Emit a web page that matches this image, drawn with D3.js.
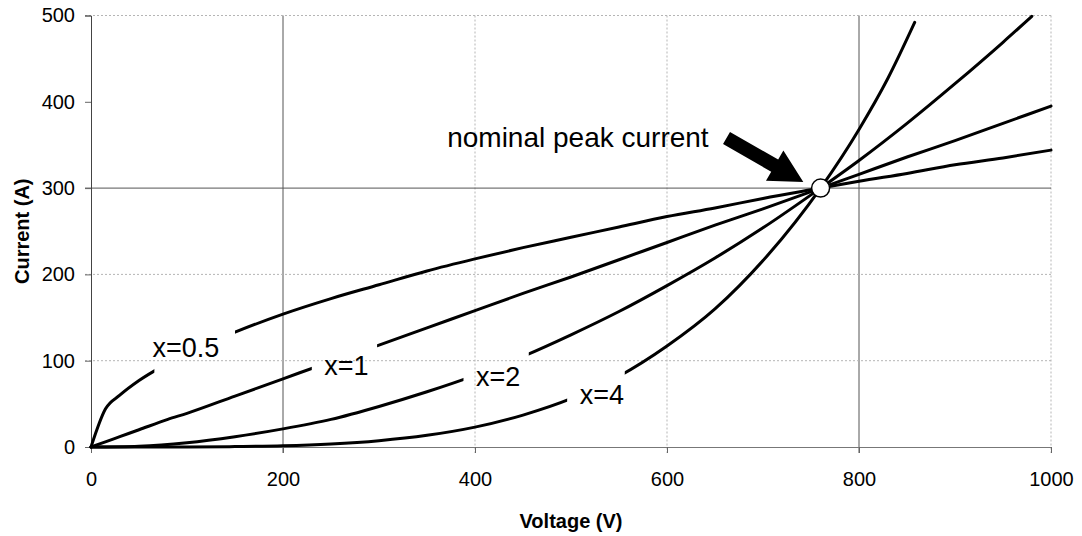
<!DOCTYPE html>
<meta charset="utf-8">
<style>
body { margin: 0; background: #fff; }
text { font-family: "Liberation Sans", Arial, sans-serif; fill: #000; }
.curve { fill: none; stroke: #000; stroke-width: 3; stroke-linejoin: round; stroke-linecap: round; }
</style>
<body>
<svg width="1082" height="536"></svg>

<script src="https://cdn.jsdelivr.net/npm/d3@7"></script>
<script>

// values
var voltageLow = [0, 15, 30, 50, 80, 100, 150, 200, 250, 300, 350, 400, 450, 500, 550, 600, 650, 700, 760, 800, 850, 900, 950, 1000];
var currentX05 = [0, 44, 60, 77, 97, 109, 133, 154, 172, 188, 204, 218, 231, 243, 255, 267, 277, 288, 300, 308, 317, 327, 335, 344];
var currentX1  = [0, 6, 12, 20, 32, 39, 59, 79, 99, 118, 138, 158, 178, 197, 217, 237, 257, 276, 300, 316, 336, 355, 375, 395];
var voltageX2  = [0, 50, 100, 150, 200, 250, 300, 350, 400, 450, 500, 550, 600, 650, 700, 760, 800, 850, 900, 950, 980];
var currentX2  = [0, 1, 5, 12, 21, 32, 47, 64, 83, 105, 130, 157, 187, 219, 254, 300, 332, 375, 421, 469, 499];
var voltageX4  = [0, 100, 150, 200, 250, 300, 350, 400, 450, 500, 550, 600, 650, 700, 760, 800, 830, 858];
var currentX4  = [0, 0, 0.5, 1.4, 3.5, 7.3, 13.5, 23, 37, 56, 82, 117, 160, 216, 300, 368, 427, 492];

var seriesNames = ["x=0.5", "x=1", "x=2", "x=4"];
var xTicks = [0, 200, 400, 600, 800, 1000];
var yTicks = [0, 100, 200, 300, 400, 500];
var peak = [760, 300];

var svg = d3.select("svg"),
    margin = {left: 91, right: 31, top: 15.5, bottom: 89},
    width = +svg.attr("width") - margin.left - margin.right,
    height = +svg.attr("height") - margin.top - margin.bottom;

var x = d3.scaleLinear().domain([0, 1000]).range([margin.left, margin.left + width]);
var y = d3.scaleLinear().domain([0, 500]).range([margin.top + height, margin.top]);

function zip(vs, is) { return vs.map(function(v, i) { return [v, is[i]]; }); }

var series = [
  {name: seriesNames[0], pts: zip(voltageLow, currentX05), gap: [66, 150],  label: [64, 104]},
  {name: seriesNames[1], pts: zip(voltageLow, currentX1),  gap: [230, 298], label: [243, 83]},
  {name: seriesNames[2], pts: zip(voltageX2, currentX2),   gap: [388, 456], label: [401, 71]},
  {name: seriesNames[3], pts: zip(voltageX4, currentX4),   gap: [496, 556], label: [509, 50]}
];

// grid: some lines printed dark, the rest faint dotted
var strongX = [200, 800], strongY = [300];
var grid = svg.append("g");
xTicks.slice(1).forEach(function(v) {
  var strong = strongX.indexOf(v) >= 0;
  grid.append("line")
      .attr("x1", x(v)).attr("x2", x(v))
      .attr("y1", y(500)).attr("y2", y(0) + 6)
      .attr("stroke", strong ? "#555" : "#b5b5b5")
      .attr("stroke-dasharray", strong ? null : "2,2");
});
yTicks.slice(1).forEach(function(v) {
  if (v === 400) return; // not visible in the print
  var strong = strongY.indexOf(v) >= 0;
  grid.append("line")
      .attr("x1", x(0) - 6).attr("x2", x(1000))
      .attr("y1", y(v)).attr("y2", y(v))
      .attr("stroke", strong ? "#555" : "#b5b5b5")
      .attr("stroke-dasharray", strong ? null : "2,2");
});

// axes
var xAxis = svg.append("g").attr("transform", "translate(0," + y(0) + ")")
    .call(d3.axisBottom(x).tickValues(xTicks).tickFormat(d3.format("d")).tickSize(6).tickPadding(19));
var yAxis = svg.append("g").attr("transform", "translate(" + x(0) + ",0)")
    .call(d3.axisLeft(y).tickValues(yTicks).tickSize(6).tickPadding(10));
[xAxis, yAxis].forEach(function(a) {
  a.select(".domain").attr("stroke", "#444");
  a.selectAll(".tick line").attr("stroke", "#666");
  a.selectAll("text").attr("font-size", 20).attr("font-family", "Liberation Sans, Arial, sans-serif").attr("fill", "#000");
});
xAxis.select(".domain").attr("stroke", "#777");

svg.append("text")
    .attr("x", x(500)).attr("y", 528)
    .attr("text-anchor", "middle")
    .attr("font-size", 20).attr("font-weight", "bold")
    .text("Voltage (V)");

svg.append("text")
    .attr("transform", "translate(29," + y(250) + ") rotate(-90)")
    .attr("text-anchor", "middle")
    .attr("font-size", 20).attr("font-weight", "bold")
    .text("Current (A)");

// curves, each with a break where its label sits
var line = d3.line()
    .x(function(d) { return x(d[0]); })
    .y(function(d) { return y(d[1]); })
    .curve(d3.curveMonotoneX);

var defs = svg.append("defs");
series.forEach(function(s, i) {
  var m = defs.append("mask").attr("id", "gap" + i).attr("maskUnits", "userSpaceOnUse")
      .attr("x", 0).attr("y", 0).attr("width", 1082).attr("height", 536);
  m.append("rect").attr("width", 1082).attr("height", 536).attr("fill", "#fff");
  m.append("rect")
      .attr("x", x(s.gap[0])).attr("width", x(s.gap[1]) - x(s.gap[0]))
      .attr("y", 0).attr("height", 536).attr("fill", "#000");

  svg.append("path")
      .datum(s.pts)
      .attr("class", "curve")
      .attr("mask", "url(#gap" + i + ")")
      .attr("d", line);

  svg.append("text")
      .attr("x", x(s.label[0])).attr("y", y(s.label[1]))
      .attr("font-size", 27)
      .text(s.name);
});

// nominal peak current annotation
var tail = [x(662), y(358)], tip = [x(742), y(307)];
function arrowPoints(a, b, shaft, headW, headL) {
  var dx = b[0] - a[0], dy = b[1] - a[1], len = Math.hypot(dx, dy),
      ux = dx / len, uy = dy / len, px = -uy, py = ux,
      bx = b[0] - ux * headL, by = b[1] - uy * headL;
  return [
    [a[0] + px * shaft / 2, a[1] + py * shaft / 2],
    [bx + px * shaft / 2, by + py * shaft / 2],
    [bx + px * headW / 2, by + py * headW / 2],
    b,
    [bx - px * headW / 2, by - py * headW / 2],
    [bx - px * shaft / 2, by - py * shaft / 2],
    [a[0] - px * shaft / 2, a[1] - py * shaft / 2]
  ];
}
svg.append("polygon")
    .attr("points", arrowPoints(tail, tip, 14, 35, 33).map(function(p) { return p.join(","); }).join(" "))
    .attr("fill", "#000");

svg.append("text")
    .attr("x", x(371)).attr("y", y(348))
    .attr("font-size", 28)
    .text("nominal peak current");

svg.append("circle")
    .attr("cx", x(peak[0])).attr("cy", y(peak[1]))
    .attr("r", 9)
    .attr("fill", "#fff")
    .attr("stroke", "#000")
    .attr("stroke-width", 1.5);

</script>
